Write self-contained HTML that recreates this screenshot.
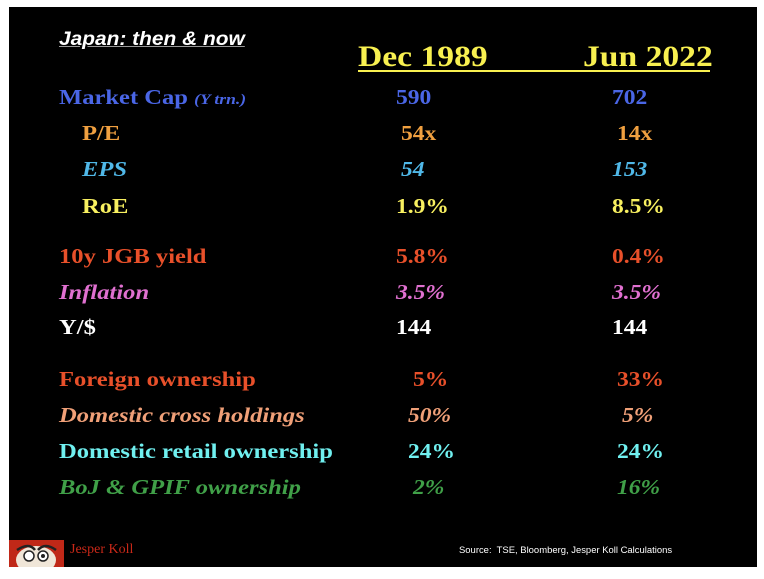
<!DOCTYPE html>
<html><head><meta charset="utf-8"><style>
body{margin:0;width:764px;height:579px;background:#fff;position:relative;overflow:hidden}
#slide{position:absolute;left:9px;top:7px;width:748px;height:560px;background:#000}
.t{position:absolute;line-height:1;font-family:"Liberation Serif",serif;font-weight:bold;font-size:21px;white-space:pre;transform-origin:0 0;transform:scaleX(1.17)}
.v{transform:scaleX(1.12)}
.i{font-style:italic}
</style></head><body>
<div id="slide"></div>
<div class="t i" style="left:59px;top:30px;font-family:'Liberation Sans',sans-serif;font-size:19px;color:#fff;text-decoration:underline;text-decoration-color:#999;transform:scaleX(1.1)">Japan: then &amp; now</div>
<div class="t" style="left:358px;top:42px;font-size:30px;color:#f8f050;transform:scaleX(1.12)">Dec 1989</div>
<div class="t" style="left:583px;top:42px;font-size:30px;color:#f8f050;transform:scaleX(1.12)">Jun 2022</div>
<div style="position:absolute;left:358px;top:70px;width:352px;height:2px;background:#f8f050"></div>

<div class="t" style="left:59px;top:87px;color:#4a66e6">Market Cap <span class="i" style="font-size:15px">(Y trn.)</span></div>
<div class="t" style="left:82px;top:123px;color:#f0a040">P/E</div>
<div class="t i" style="left:82px;top:159px;color:#50b8e8">EPS</div>
<div class="t" style="left:82px;top:196px;color:#f8f060">RoE</div>
<div class="t" style="left:59px;top:246px;color:#e8502a">10y JGB yield</div>
<div class="t i" style="left:59px;top:282px;color:#e070d0">Inflation</div>
<div class="t" style="left:59px;top:317px;color:#fff">Y/$</div>
<div class="t" style="left:59px;top:369px;color:#e8502a">Foreign ownership</div>
<div class="t i" style="left:59px;top:405px;color:#f0a078">Domestic cross holdings</div>
<div class="t" style="left:59px;top:441px;color:#70f0f0">Domestic retail ownership</div>
<div class="t i" style="left:59px;top:477px;color:#40a048">BoJ &amp; GPIF ownership</div>

<div class="t v" style="left:396px;top:87px;color:#4a66e6">590</div>
<div class="t v" style="left:612px;top:87px;color:#4a66e6">702</div>
<div class="t v" style="left:401px;top:123px;color:#f0a040">54x</div>
<div class="t v" style="left:617px;top:123px;color:#f0a040">14x</div>
<div class="t v i" style="left:401px;top:159px;color:#50b8e8">54</div>
<div class="t v i" style="left:612px;top:159px;color:#50b8e8">153</div>
<div class="t v" style="left:396px;top:196px;color:#f8f060">1.9%</div>
<div class="t v" style="left:612px;top:196px;color:#f8f060">8.5%</div>
<div class="t v" style="left:396px;top:246px;color:#e8502a">5.8%</div>
<div class="t v" style="left:612px;top:246px;color:#e8502a">0.4%</div>
<div class="t v i" style="left:396px;top:282px;color:#e070d0">3.5%</div>
<div class="t v i" style="left:612px;top:282px;color:#e070d0">3.5%</div>
<div class="t v" style="left:396px;top:317px;color:#fff">144</div>
<div class="t v" style="left:612px;top:317px;color:#fff">144</div>
<div class="t v" style="left:413px;top:369px;color:#e8502a">5%</div>
<div class="t v" style="left:617px;top:369px;color:#e8502a">33%</div>
<div class="t v i" style="left:408px;top:405px;color:#f0a078">50%</div>
<div class="t v i" style="left:622px;top:405px;color:#f0a078">5%</div>
<div class="t v" style="left:408px;top:441px;color:#70f0f0">24%</div>
<div class="t v" style="left:617px;top:441px;color:#70f0f0">24%</div>
<div class="t v i" style="left:413px;top:477px;color:#40a048">2%</div>
<div class="t v i" style="left:617px;top:477px;color:#40a048">16%</div>

<svg style="position:absolute;left:9px;top:540px" width="55" height="27">
<rect width="55" height="27" fill="#c02818"/>
<ellipse cx="27" cy="20" rx="20" ry="14" fill="#f0e6d8"/>
<circle cx="20" cy="16" r="5" fill="#fff" stroke="#222" stroke-width="1.5"/>
<circle cx="34" cy="16" r="5" fill="#fff" stroke="#222" stroke-width="1.5"/>
<circle cx="34" cy="16" r="2" fill="#222"/>
<path d="M8 10 Q20 2 26 10 M29 10 Q36 2 47 10" stroke="#222" stroke-width="2.5" fill="none"/>
</svg>
<div class="t" style="left:70px;top:543px;font-weight:normal;font-size:14px;color:#c82818;transform:none">Jesper Koll</div>
<div class="t" style="left:459px;top:546px;font-family:'Liberation Sans',sans-serif;font-weight:normal;font-size:9px;color:#fff;transform:scaleX(1.05)">Source:  TSE, Bloomberg, Jesper Koll Calculations</div>
</body></html>
